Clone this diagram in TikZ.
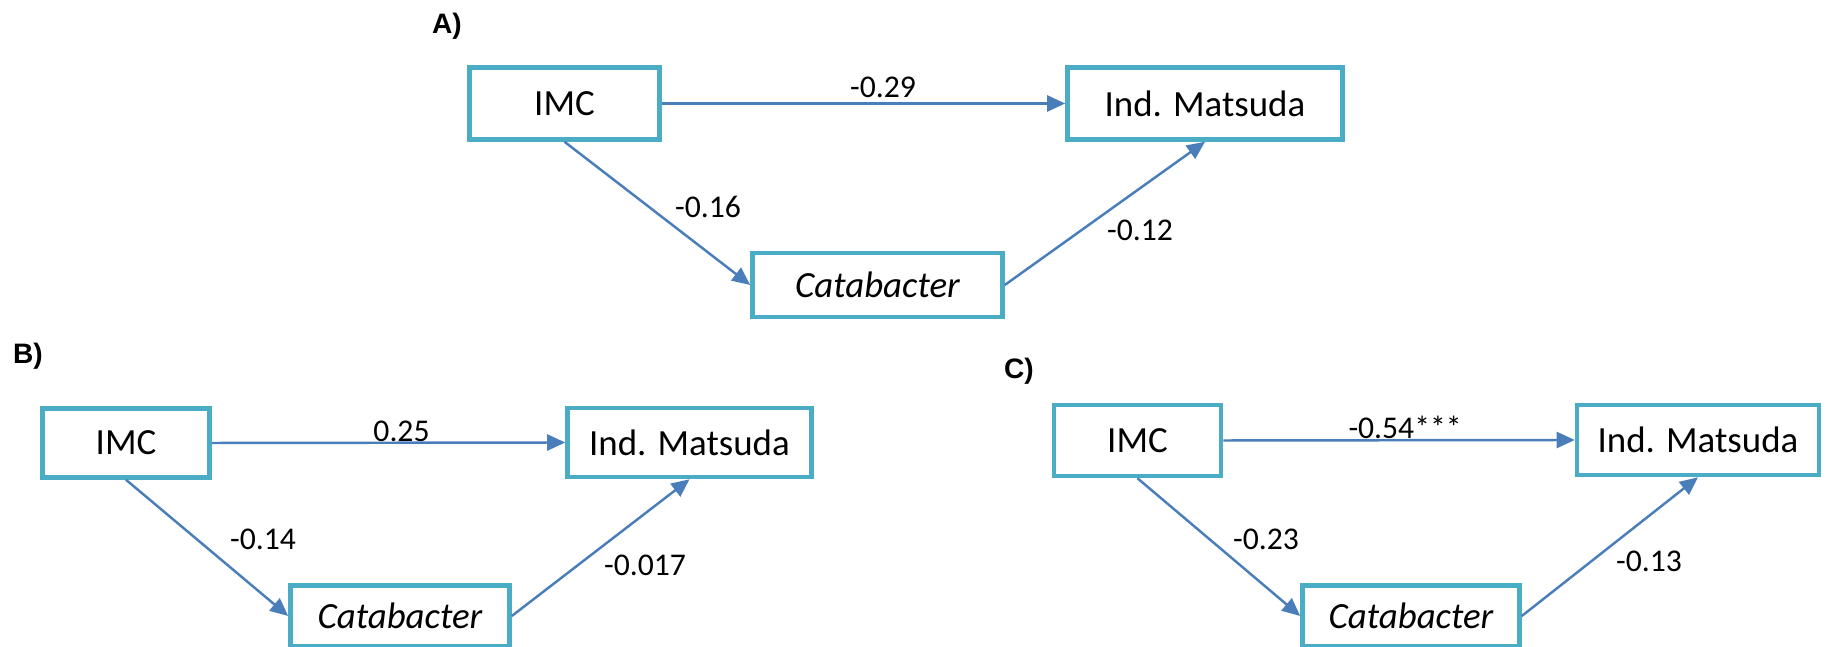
\documentclass[tikz,border=0pt]{standalone}
\usepackage{fontspec}
\setmainfont{Carlito}
\newfontfamily\panelfont{Liberation Sans}
\usetikzlibrary{arrows.meta}
\definecolor{boxcol}{HTML}{4BACC6}
\definecolor{arrcol}{HTML}{4A7EBB}

\begin{document}
\begin{tikzpicture}[
		box/.style={draw=boxcol, line width=1.3pt, fill=white, inner sep=0pt, font=\fontsize{10.5}{12}\selectfont},
		coef/.style={inner sep=0pt, font=\fontsize{9}{11}\selectfont},
		panel/.style={inner sep=0pt, font=\panelfont\bfseries\fontsize{8}{10}\selectfont},
		arr/.style={draw=arrcol, line width=0.7pt, ->},
		>={Triangle[length=1.8mm, width=1.6mm]}] %mediazione IMC - Catabacter - Matsuda
		\useasboundingbox (0,0) rectangle (18.30,6.47);
		
		% A)
		\node[panel] (pA) at (4.47,6.21) {A)};
		\node[box, minimum width=1.90cm, minimum height=0.72cm] (imcA) at (5.645,5.435) {IMC};
		\node[box, minimum width=2.75cm, minimum height=0.72cm] (matA) at (12.05,5.435) {Ind. Matsuda};
		\node[box, minimum width=2.50cm, minimum height=0.64cm] (catA) at (8.775,3.62) {\itshape Catabacter};
		
		\node[coef] (cA1) at (8.83,5.60) {-0.29};
		\node[coef] (cA2) at (7.08,4.40) {-0.16};
		\node[coef] (cA3) at (11.40,4.17) {-0.12};
		
		% B)
		\node[panel] (pB) at (0.28,2.91) {B)};
		\node[box, minimum width=1.67cm, minimum height=0.69cm] (imcB) at (1.26,2.04) {IMC};
		\node[box, minimum width=2.44cm, minimum height=0.69cm] (matB) at (6.895,2.045) {Ind. Matsuda};
		\node[box, minimum width=2.19cm, minimum height=0.61cm] (catB) at (4.00,0.31) {\itshape Catabacter};
		
		\node[coef] (cB1) at (4.015,2.16) {0.25};
		\node[coef] (cB2) at (2.63,1.08) {-0.14};
		\node[coef] (cB3) at (6.45,0.82) {-0.017};
		
		% C)
		\node[panel] (pC) at (10.19,2.76) {C)};
		\node[box, minimum width=1.67cm, minimum height=0.71cm] (imcC) at (11.375,2.065) {IMC};
		\node[box, minimum width=2.42cm, minimum height=0.70cm] (matC) at (16.98,2.07) {Ind. Matsuda};
		\node[box, minimum width=2.17cm, minimum height=0.61cm] (catC) at (14.11,0.31) {\itshape Catabacter};
		
		\node[coef] (cC1) at (14.05,2.20) {-0.54***};
		\node[coef] (cC2) at (12.66,1.08) {-0.23};
		\node[coef] (cC3) at (16.49,0.86) {-0.13};
		
		\path []
		(imcA.east) edge[arr] (matA.west)
		(imcA.south) edge[arr] (catA.west)
		(catA.east) edge[arr] (matA.south)
		(imcB.east) edge[arr] (matB.west)
		(imcB.south) edge[arr] (catB.west)
		(catB.east) edge[arr] (matB.south)
		(imcC.east) edge[arr] (matC.west)
		(imcC.south) edge[arr] (catC.west)
		(catC.east) edge[arr] (matC.south);
	\end{tikzpicture}
\end{document}
